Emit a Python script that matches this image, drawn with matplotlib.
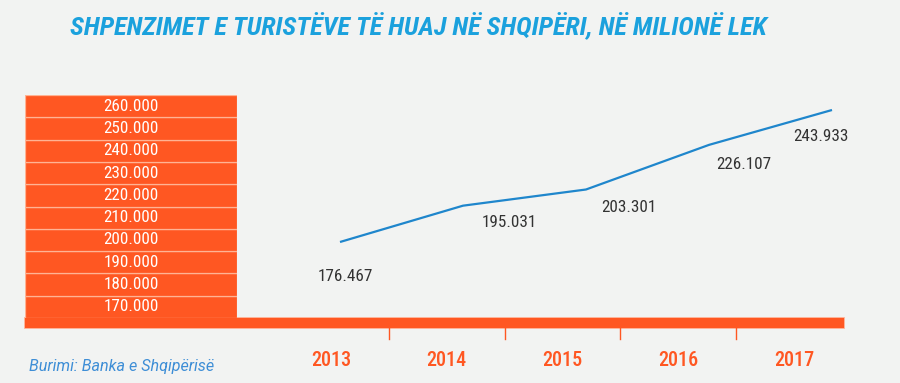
import matplotlib
matplotlib.use("Agg")
import matplotlib.pyplot as plt
from matplotlib import font_manager
from matplotlib.patches import Rectangle

years = [2013, 2014, 2015, 2016, 2017]
values = [176.467, 195.031, 203.301, 226.107, 243.933]
value_labels = ["176.467", "195.031", "203.301", "226.107", "243.933"]
box_labels = ["170.000", "180.000", "190.000", "200.000", "210.000",
              "220.000", "230.000", "240.000", "250.000", "260.000"]
title = "SHPENZIMET E TURISTËVE TË HUAJ NË SHQIPËRI, NË MILIONË LEK"
source = "Burimi: Banka e Shqipërisë"

ORANGE = "#ff5722"
BLUE_LINE = "#1f86cc"
BG = "#f2f3f2"

names = {f.name for f in font_manager.fontManager.ttflist}
narrow = "Roboto"
for cand in ["Roboto Condensed", "Liberation Sans Narrow"]:
    if cand in names:
        narrow = cand
        break

W, H = 900, 383
fig = plt.figure(figsize=(W / 100, H / 100), dpi=100)
fig.patch.set_facecolor(BG)


def px_axes(x0, y0, x1, y1, z=1):
    ax = fig.add_axes([x0 / W, 1 - y1 / H, (x1 - x0) / W, (y1 - y0) / H], zorder=z)
    ax.set_facecolor("none")
    ax.axis("off")
    return ax


# background decoration in pixel space (bottom bar)
deco = px_axes(0, 0, W, H, z=0)
deco.set_xlim(0, W)
deco.set_ylim(H, 0)
deco.add_patch(Rectangle((24, 317), 820, 11, facecolor=ORANGE,
                         edgecolor="#ffb89e", linewidth=0.6))

# left scale block
axb = px_axes(25, 95, 237, 318, z=2)
axb.barh(range(len(box_labels)), 1, height=1, color=ORANGE,
         edgecolor="#ffb394", linewidth=0.9)
axb.set_xlim(0, 1)
axb.set_ylim(-0.5, len(box_labels) - 0.5)
for i, lab in enumerate(box_labels):
    axb.text(0.5, i, lab, ha="center", va="center", color="white",
             fontsize=12.3, family=narrow)

# line
axl = px_axes(340, 110, 832, 242, z=3)
axl.plot(years, values, color=BLUE_LINE, linewidth=1.6, clip_on=False,
         solid_capstyle="butt")
axl.set_xlim(years[0], years[-1])
axl.set_ylim(min(values), max(values))
offsets = [(4, -25), (33, -12), (31, -13), (25, -14), (-8, -19)]
for x, y, lab, off in zip(years, values, value_labels, offsets):
    axl.annotate(lab, (x, y), xytext=off, textcoords="offset points",
                 ha="center", va="center", color="#333333",
                 annotation_clip=False, family=narrow, fontsize=12.3)

# year strip
axy = px_axes(273, 328, 852, 383, z=2)
axy.set_xlim(-0.5, len(years) - 0.5)
axy.set_ylim(0, 1)
for i in range(len(years) - 1):
    axy.plot([i + 0.5, i + 0.5], [1, 1 - 11 / 55], color=ORANGE, linewidth=1.0)
for i, yr in enumerate(years):
    axy.text(i, 1 - 32 / 55, str(yr), ha="center", va="center", color=ORANGE,
             fontsize=14.5, family=narrow, fontweight="medium")

# title & source
fig.text(70 / W, 1 - 35 / H, title, color="#1ba1dd", fontweight="bold",
         fontstyle="italic", va="baseline", ha="left", family=narrow,
         fontsize=19)
fig.text(29 / W, 1 - 366 / H, source, color="#3e8ed6", fontstyle="italic",
         fontsize=11.6, family="Roboto", va="center", ha="left")

fig.savefig("out.png", dpi=100, facecolor=BG)
